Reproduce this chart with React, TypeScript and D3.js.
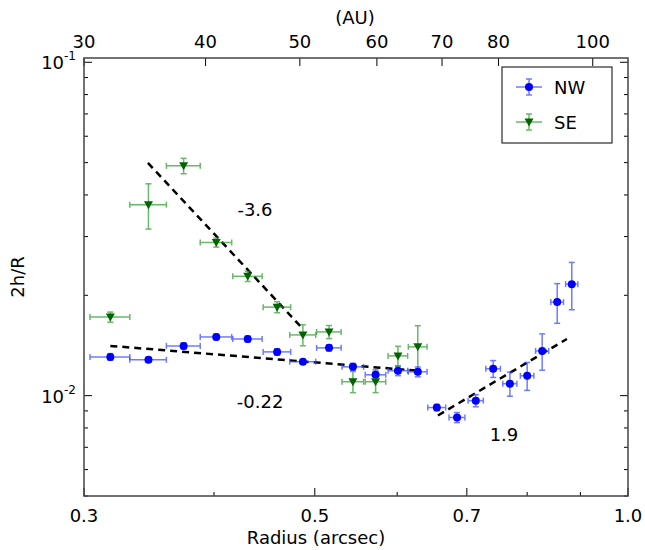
import React from 'react';
import * as d3 from 'd3';

// NW (blue) points: radius (arcsec), 2h/R, errors
const nwR = [0.318, 0.346, 0.374, 0.402, 0.431, 0.460, 0.487, 0.516, 0.544, 0.572, 0.601, 0.628, 0.655, 0.685, 0.714, 0.742, 0.770, 0.800, 0.827, 0.855, 0.883];
const nwV = [0.01307, 0.01281, 0.0141, 0.0150, 0.01479, 0.01353, 0.01264, 0.01391, 0.0122, 0.01155, 0.01188, 0.01179, 0.00921, 0.0086, 0.00966, 0.01204, 0.01086, 0.01147, 0.01362, 0.01908, 0.0216];
const nwYErr = [0.0003, 0.0002, 0.0003, 0.0003, 0.0003, 0.0003, 0.0002, 0.0003, 0.0003, 0.0004, 0.0004, 0.0004, 0.0002, 0.0003, 0.0004, 0.0007, 0.0009, 0.0011, 0.0017, 0.0026, 0.0035];
const nwXErr = [0.014, 0.014, 0.014, 0.014, 0.014, 0.014, 0.014, 0.014, 0.013, 0.013, 0.013, 0.013, 0.013, 0.012, 0.012, 0.012, 0.012, 0.012, 0.012, 0.012, 0.012];

// SE (green) points
const seR = [0.318, 0.346, 0.374, 0.402, 0.431, 0.460, 0.487, 0.516, 0.544, 0.572, 0.601, 0.628];
const seV = [0.01721, 0.0374, 0.0489, 0.0288, 0.0228, 0.01843, 0.01521, 0.01553, 0.01101, 0.01101, 0.01316, 0.01401];
const seYErr = [0.0006, 0.0058, 0.0026, 0.0009, 0.0008, 0.0007, 0.0011, 0.0007, 0.0008, 0.0008, 0.0009, 0.0022];
const seXErr = [0.014, 0.014, 0.014, 0.014, 0.014, 0.014, 0.014, 0.014, 0.013, 0.013, 0.013, 0.013];

// power-law fits
const fits = [
  { r: [0.3456, 0.4871], v: [0.0499, 0.01585], label: '-3.6', at: [0.438, 0.0345] },
  { r: [0.318, 0.628], v: [0.0141, 0.01188], label: '-0.22', at: [0.443, 0.0092] },
  { r: [0.6566, 0.8735], v: [0.00872, 0.01479], label: '1.9', at: [0.760, 0.0073] },
];

const bottomTicks = [0.3, 0.5, 0.7, 1.0];
const bottomMinor = [0.4, 0.6, 0.8, 0.9];
const topTicks = [30, 40, 50, 60, 70, 80, 100];

const W = 645, H = 550;
const L = 84, R = 628, T = 58, B = 496;

export default function App() {
  const x = d3.scaleLog().domain([0.3, 1.0]).range([L, R]);
  const xTop = d3.scaleLog().domain([30, 108.7]).range([L, R]);
  const y = d3.scaleLog().domain([0.005, 0.103]).range([B, T]);
  const font = 'DejaVu Sans, sans-serif';
  const yMinor: number[] = [];
  for (const d of [0.001, 0.01]) for (let k = 2; k <= 9; k++) { const v = d * k; if (v >= 0.005 && v <= 0.103) yMinor.push(v); }

  const errBars = (rs: number[], vs: number[], xe: number[], ye: number[], color: string) =>
    rs.map((r, i) => {
      const cx = x(r), cy = y(vs[i]);
      const x0 = x(r - xe[i]), x1 = x(r + xe[i]);
      const y0 = y(vs[i] - ye[i]), y1 = y(vs[i] + ye[i]);
      return (
        <g key={i} stroke={color} strokeWidth={1.5} opacity={0.7}>
          <line x1={x0} x2={x1} y1={cy} y2={cy} />
          <line x1={x0} x2={x0} y1={cy - 3} y2={cy + 3} />
          <line x1={x1} x2={x1} y1={cy - 3} y2={cy + 3} />
          <line x1={cx} x2={cx} y1={y0} y2={y1} />
          <line x1={cx - 3} x2={cx + 3} y1={y0} y2={y0} />
          <line x1={cx - 3} x2={cx + 3} y1={y1} y2={y1} />
        </g>
      );
    });

  const tri = (cx: number, cy: number) => `M${cx - 4.5},${cy - 3.5}L${cx + 4.5},${cy - 3.5}L${cx},${cy + 4.5}Z`;

  return (
    <svg width={W} height={H} style={{ position: 'absolute', left: 0, top: 0 }} fontFamily={font}>
      <rect width={W} height={H} fill="white" />
      {bottomTicks.map(t => (
        <g key={'b' + t}>
          <line x1={x(t)} x2={x(t)} y1={B} y2={B - 8} stroke="black" />
          <text x={x(t)} y={B + 26} fontSize={18} textAnchor="middle">{t.toFixed(1)}</text>
        </g>
      ))}
      {bottomMinor.map(t => (
        <line key={'bm' + t} x1={x(t)} x2={x(t)} y1={B} y2={B - 4} stroke="black" />
      ))}
      {topTicks.map(t => (
        <g key={'t' + t}>
          <line x1={xTop(t)} x2={xTop(t)} y1={T} y2={T + 8} stroke="black" />
          <text x={xTop(t)} y={T - 10} fontSize={18} textAnchor="middle">{t}</text>
        </g>
      ))}
      {[0.01, 0.1].map((t, i) => (
        <g key={'y' + t}>
          <line x1={L} x2={L + 8} y1={y(t)} y2={y(t)} stroke="black" />
          <line x1={R} x2={R - 8} y1={y(t)} y2={y(t)} stroke="black" />
          <text x={L - 8} y={y(t) + 7} fontSize={18} textAnchor="end">
            10<tspan fontSize={12} dy={-9}>{i === 0 ? '-2' : '-1'}</tspan>
          </text>
        </g>
      ))}
      {yMinor.map(t => (
        <g key={'ym' + t}>
          <line x1={L} x2={L + 4} y1={y(t)} y2={y(t)} stroke="black" />
          <line x1={R} x2={R - 4} y1={y(t)} y2={y(t)} stroke="black" />
        </g>
      ))}
      {fits.map((f, i) => (
        <g key={'f' + i}>
          <line x1={x(f.r[0])} x2={x(f.r[1])} y1={y(f.v[0])} y2={y(f.v[1])} stroke="black" strokeWidth={2.5} strokeDasharray="7,5" />
          <text x={x(f.at[0])} y={y(f.at[1])} fontSize={18} textAnchor="middle">{f.label}</text>
        </g>
      ))}
      {errBars(nwR, nwV, nwXErr, nwYErr, '#3344ff')}
      {errBars(seR, seV, seXErr, seYErr, '#2a9a2a')}
      {nwR.map((r, i) => <circle key={'n' + i} cx={x(r)} cy={y(nwV[i])} r={4} fill="#0000ff" />)}
      {seR.map((r, i) => <path key={'s' + i} d={tri(x(r), y(seV[i]))} fill="#006400" />)}
      <rect x={L} y={T} width={R - L} height={B - T} fill="none" stroke="#444" strokeWidth={1.5} />
      <rect x={502} y={67} width={110} height={76} fill="white" stroke="black" />
      <g stroke="#3344ff" strokeWidth={1.5} opacity={0.7}>
        <line x1={516} x2={542} y1={87} y2={87} />
        <line x1={529} x2={529} y1={79} y2={95} />
        <line x1={526} x2={532} y1={79} y2={79} />
        <line x1={526} x2={532} y1={95} y2={95} />
      </g>
      <circle cx={529} cy={87} r={4} fill="#0000ff" />
      <text x={554} y={94} fontSize={18}>NW</text>
      <g stroke="#2a9a2a" strokeWidth={1.5} opacity={0.7}>
        <line x1={516} x2={542} y1={122} y2={122} />
        <line x1={529} x2={529} y1={114} y2={130} />
        <line x1={526} x2={532} y1={114} y2={114} />
        <line x1={526} x2={532} y1={130} y2={130} />
      </g>
      <path d={tri(529, 122)} fill="#006400" />
      <text x={554} y={129} fontSize={18}>SE</text>
      <text x={316} y={544} fontSize={18} textAnchor="middle">Radius (arcsec)</text>
      <text x={355} y={24} fontSize={18} textAnchor="middle">(AU)</text>
      <text transform={`translate(24,${(T + B) / 2}) rotate(-90)`} fontSize={18} textAnchor="middle">2h/R</text>
    </svg>
  );
}
